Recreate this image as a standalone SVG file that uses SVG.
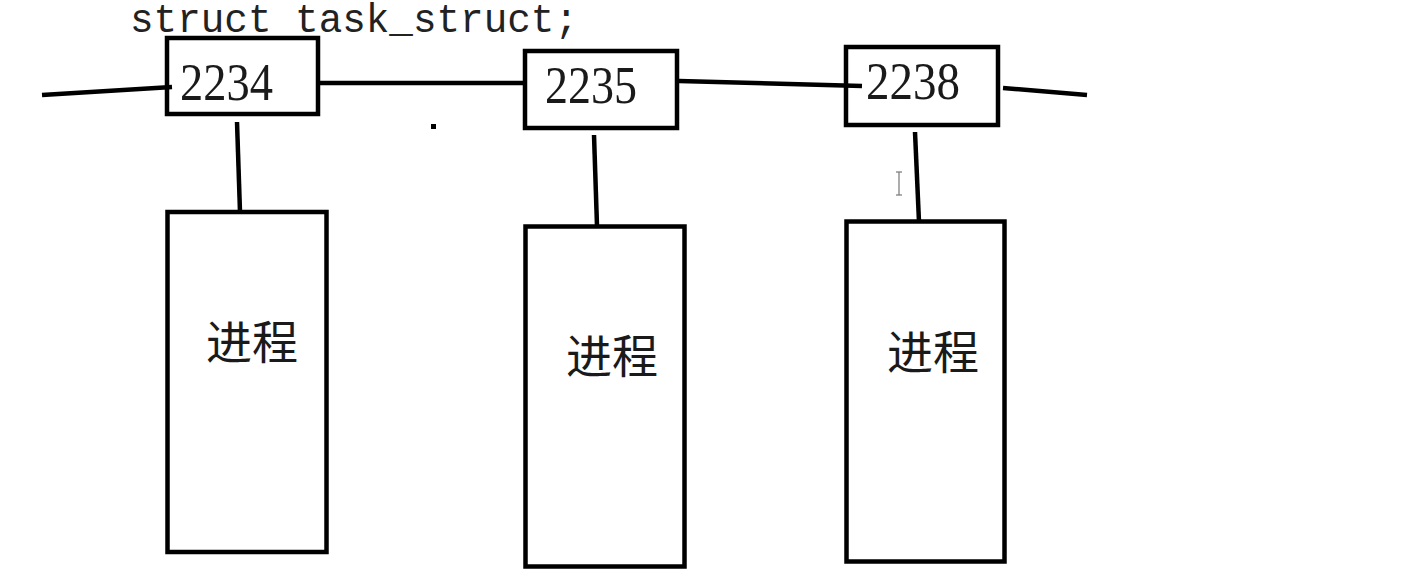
<svg xmlns="http://www.w3.org/2000/svg" width="1414" height="585" viewBox="0 0 1414 585">
<style>
.box{fill:none;stroke:#000;stroke-width:4.5}
.ln{stroke:#000;stroke-width:4.5;fill:none;stroke-linecap:butt}
.num{font-family:"Liberation Serif",serif;font-size:52px;fill:#1a1a1a}
.cjk{font-family:"Liberation Sans","Noto Sans CJK SC",sans-serif;font-size:46px;fill:#1a1a1a}
.code{font-family:"Liberation Mono",monospace;font-size:40px;fill:#222}
</style>
<rect width="1414" height="585" fill="#fff"/>
<text class="code" x="130" y="32" textLength="448" lengthAdjust="spacingAndGlyphs">struct task_struct;</text>
<g id="connectors">
<line class="ln" x1="42" y1="95" x2="172" y2="87"/>
<line class="ln" x1="320" y1="83" x2="523" y2="83"/>
<line class="ln" x1="679" y1="81" x2="862" y2="86"/>
<line class="ln" x1="1003" y1="88" x2="1087" y2="95"/>
<line class="ln" x1="237" y1="122" x2="240" y2="212"/>
<line class="ln" x1="594" y1="135" x2="597" y2="226"/>
<line class="ln" x1="915" y1="132" x2="919" y2="222"/>
</g>
<rect x="431" y="124" width="5" height="5" fill="#000"/>
<g id="cursor" stroke="#777" stroke-width="1.2" fill="none">
<line x1="899" y1="172" x2="899" y2="195"/>
<line x1="896" y1="172" x2="902" y2="172"/>
<line x1="896" y1="195" x2="902" y2="195"/>
</g>
<g id="node-2234">
<rect class="box" x="167" y="38" width="151" height="76"/>
<text class="num" x="180" y="100" textLength="93" lengthAdjust="spacingAndGlyphs">2234</text>
</g>
<g id="node-2235">
<rect class="box" x="525" y="51" width="152" height="77"/>
<text class="num" x="545" y="103" textLength="92" lengthAdjust="spacingAndGlyphs">2235</text>
</g>
<g id="node-2238">
<rect class="box" x="846" y="47" width="152" height="78"/>
<text class="num" x="866" y="99" textLength="94" lengthAdjust="spacingAndGlyphs">2238</text>
</g>
<g id="proc-1">
<rect class="box" x="167.5" y="212" width="159" height="340"/>
<text class="cjk" x="206" y="359">进程</text>
</g>
<g id="proc-2">
<rect class="box" x="525.5" y="226.5" width="159" height="340"/>
<text class="cjk" x="566" y="373">进程</text>
</g>
<g id="proc-3">
<rect class="box" x="846.5" y="221.5" width="158" height="340"/>
<text class="cjk" x="887" y="369">进程</text>
</g>
</svg>
